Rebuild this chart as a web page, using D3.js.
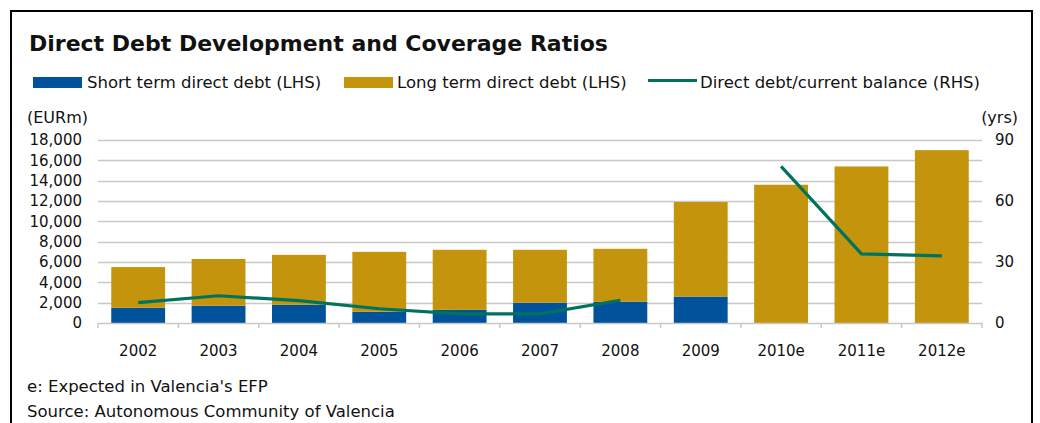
<!DOCTYPE html>
<html>
<head>
<meta charset="utf-8">
<script src="https://cdn.jsdelivr.net/npm/d3@7"></script>
<style>
  html, body { margin: 0; padding: 0; background: #fff; }
  svg { display: block; }
  text { font-family: "DejaVu Sans", sans-serif; fill: #111; }
</style>
</head>
<body>
<svg id="chart" width="1040" height="423"></svg>
<script>
// Direct debt by year, EUR million (stacked), and debt/current balance ratio in years
const years = ["2002", "2003", "2004", "2005", "2006", "2007", "2008", "2009", "2010e", "2011e", "2012e"];
const shortTermDebt = [1500, 1700, 1800, 1100, 1300, 2000, 2100, 2600, 0, 0, 0];
const longTermDebt = [4000, 4600, 4900, 5900, 5900, 5200, 5200, 9300, 13600, 15400, 17000];
const debtToBalance = [10, 13.4, 11, 7, 4.5, 4.5, 11.2, null, 77, 34, 33];
const leftTicks = [0, 2000, 4000, 6000, 8000, 10000, 12000, 14000, 16000, 18000];
const rightTicks = [0, 30, 60, 90];

const colors = { short: "#00529b", long: "#c4940c", line: "#00735e", grid: "#c8c8c8" };

const svg = d3.select("#chart");
const x0 = 98, x1 = 982, yTop = 140, yBase = 323;

// Frame
svg.append("rect")
  .attr("x", 11).attr("y", 11).attr("width", 1021).attr("height", 430)
  .attr("fill", "none").attr("stroke", "#000").attr("stroke-width", 2);

// Title
svg.append("text").attr("x", 29).attr("y", 51)
  .attr("font-size", 22).attr("font-weight", "bold")
  .text("Direct Debt Development and Coverage Ratios");

// Scales
const x = d3.scaleBand().domain(years).range([x0, x1]).paddingInner(0.33).paddingOuter(0.165);
const xCat = d3.scaleBand().domain(years).range([x0, x1]);
const yL = d3.scaleLinear().domain([0, 18000]).range([yBase, yTop]);
const yR = d3.scaleLinear().domain([0, 90]).range([yBase, yTop]);

// Gridlines
svg.append("g").selectAll("line").data(leftTicks.slice(1)).join("line")
  .attr("x1", x0).attr("x2", x1)
  .attr("y1", d => Math.round(yL(d)) + 0.5).attr("y2", d => Math.round(yL(d)) + 0.5)
  .attr("stroke", colors.grid).attr("stroke-width", 1.5);

// Left axis labels
const axL = svg.append("g").attr("transform", `translate(${x0},0)`)
  .call(d3.axisLeft(yL).tickValues(leftTicks).tickFormat(d3.format(",")).tickSize(0).tickPadding(16));
axL.select(".domain").remove();
axL.selectAll("text").attr("font-size", 15).attr("font-family", null).attr("fill", "#111");

// Right axis labels
const axR = svg.append("g").attr("transform", `translate(${x1},0)`)
  .call(d3.axisRight(yR).tickValues(rightTicks).tickSize(0).tickPadding(13));
axR.select(".domain").remove();
axR.selectAll("text").attr("font-size", 15).attr("font-family", null).attr("fill", "#111");

// Stacked bars
const rows = years.map((y, i) => ({ year: y, short: shortTermDebt[i], long: longTermDebt[i] }));
const stacked = d3.stack().keys(["short", "long"])(rows);
svg.append("g").selectAll("g").data(stacked).join("g")
  .attr("fill", d => colors[d.key])
  .selectAll("rect").data(d => d).join("rect")
  .attr("x", d => x(d.data.year))
  .attr("width", x.bandwidth())
  .attr("y", d => yL(d[1]))
  .attr("height", d => yL(d[0]) - yL(d[1]));

// Baseline and category ticks
const axB = svg.append("g").attr("transform", `translate(0,${yBase})`)
  .call(d3.axisBottom(xCat).tickSize(0).tickPadding(22));
axB.select(".domain").attr("stroke", colors.grid).attr("stroke-width", 1.5);
axB.selectAll("text").attr("font-size", 15).attr("font-family", null).attr("fill", "#111");
svg.append("g").selectAll("line").data(years.map((d, i) => i).concat([years.length])).join("line")
  .attr("x1", i => x0 + i * xCat.step()).attr("x2", i => x0 + i * xCat.step())
  .attr("y1", yBase).attr("y2", yBase + 5)
  .attr("stroke", colors.grid).attr("stroke-width", 1.5);

// Ratio line (gap in 2009)
const line = d3.line()
  .defined(d => d.v !== null)
  .x(d => xCat(d.year) + xCat.bandwidth() / 2)
  .y(d => yR(d.v));
svg.append("path")
  .datum(years.map((y, i) => ({ year: y, v: debtToBalance[i] })))
  .attr("d", line).attr("fill", "none")
  .attr("stroke", colors.line).attr("stroke-width", 3.2);

// Legend
const lg = svg.append("g");
lg.append("rect").attr("x", 33).attr("y", 77).attr("width", 49).attr("height", 11).attr("fill", colors.short);
lg.append("text").attr("x", 87).attr("y", 88).attr("font-size", 16.5).text("Short term direct debt (LHS)");
lg.append("rect").attr("x", 344).attr("y", 77).attr("width", 49).attr("height", 11).attr("fill", colors.long);
lg.append("text").attr("x", 397).attr("y", 88).attr("font-size", 16.5).text("Long term direct debt (LHS)");
lg.append("line").attr("x1", 648).attr("x2", 697).attr("y1", 80.5).attr("y2", 80.5)
  .attr("stroke", colors.line).attr("stroke-width", 3);
lg.append("text").attr("x", 700).attr("y", 88).attr("font-size", 16.5).text("Direct debt/current balance (RHS)");

// Axis unit labels
svg.append("text").attr("x", 27).attr("y", 123).attr("font-size", 16).text("(EURm)");
svg.append("text").attr("x", 1018).attr("y", 123).attr("font-size", 16).attr("text-anchor", "end").text("(yrs)");

// Notes
svg.append("text").attr("x", 27).attr("y", 392).attr("font-size", 16.5).text("e: Expected in Valencia's EFP");
svg.append("text").attr("x", 27).attr("y", 417).attr("font-size", 16.5).text("Source: Autonomous Community of Valencia");
</script>
</body>
</html>
